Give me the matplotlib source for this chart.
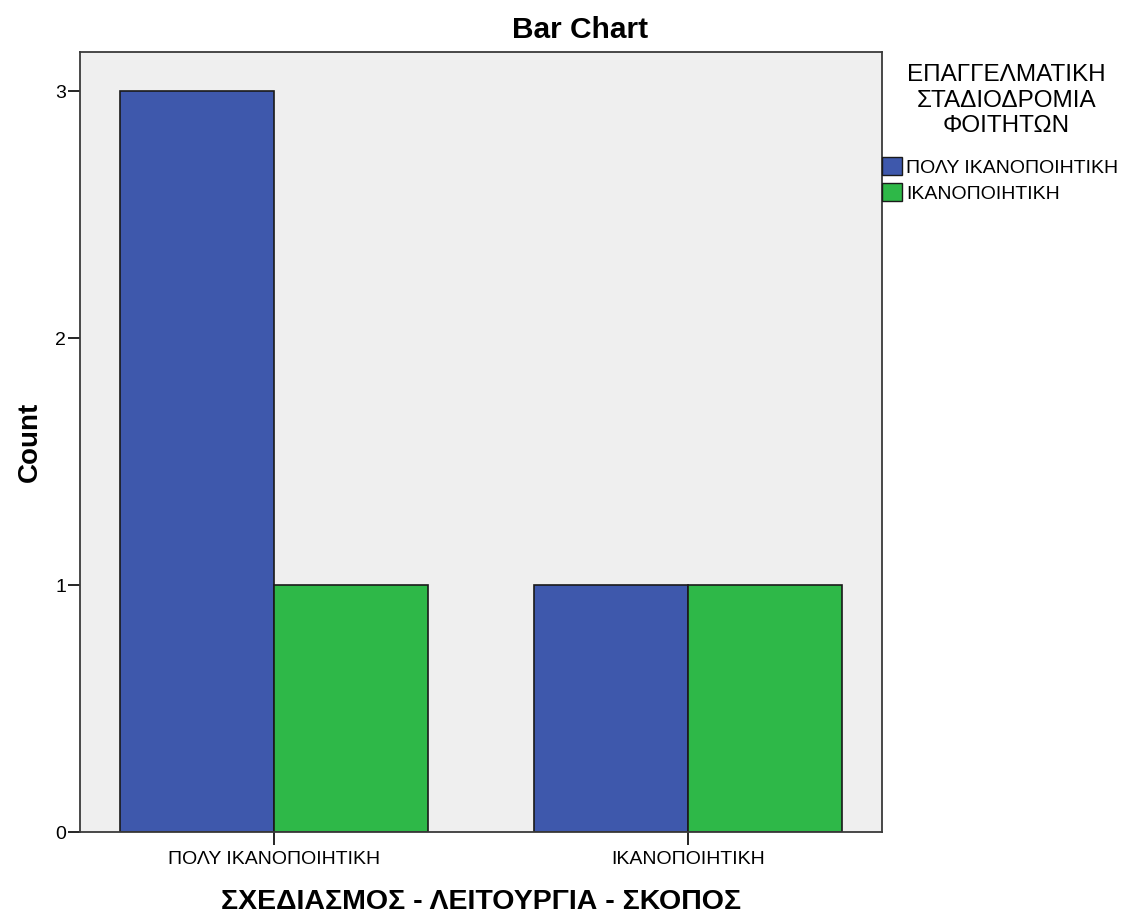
import matplotlib.pyplot as plt
import numpy as np
from matplotlib.patches import Patch

plt.rcParams['font.family'] = ['Liberation Sans', 'DejaVu Sans']

# Datos
categorias = ['ΠΟΛΥ ΙΚΑΝΟΠΟΙΗΤΙΚΗ', 'ΙΚΑΝΟΠΟΙΗΤΙΚΗ']
series = ['ΠΟΛΥ ΙΚΑΝΟΠΟΙΗΤΙΚΗ', 'ΙΚΑΝΟΠΟΙΗΤΙΚΗ']
valores_poly = [3, 1]
valores_ikano = [1, 1]
colores = ['#3E58AC', '#2EB848']

fig = plt.figure(figsize=(11.28, 9.15), dpi=100)
ax = fig.add_axes([0.0709, 0.0907, 0.7110, 0.8523])
ax.set_facecolor('#EFEFEF')

x = np.arange(len(categorias))
ancho = 0.372
ax.bar(x - ancho / 2, valores_poly, ancho, color=colores[0], edgecolor='#1a1a1a', linewidth=1.2)
ax.bar(x + ancho / 2, valores_ikano, ancho, color=colores[1], edgecolor='#1a1a1a', linewidth=1.2)

ax.set_xlim(-0.469, 1.468)
ax.set_ylim(0, 3.158)
ax.set_xticks(x)
ax.set_xticklabels(categorias, fontsize=14)
ax.set_yticks([0, 1, 2, 3])
ax.tick_params(axis='y', labelsize=14, length=9, width=1.2, pad=1)
ax.tick_params(axis='x', length=9, width=1.2, pad=5)
for s in ax.spines.values():
    s.set_color('#3a3a3a')
    s.set_linewidth(1.3)

ax.set_xlabel('ΣΧΕΔΙΑΣΜΟΣ - ΛΕΙΤΟΥΡΓΙΑ - ΣΚΟΠΟΣ', fontsize=20.5, fontweight='bold', labelpad=15)
ax.set_ylabel('Count', fontsize=20, fontweight='bold', labelpad=9)
fig.text(0.514, 0.967, 'Bar Chart', ha='center', va='center', fontsize=21.5, fontweight='bold')

# Leyenda
fig.text(0.892, 0.890, 'ΕΠΑΓΓΕΛΜΑΤΙΚΗ\nΣΤΑΔΙΟΔΡΟΜΙΑ\nΦΟΙΤΗΤΩΝ', ha='center', va='center',
         fontsize=17.5, linespacing=1.2)
handles = [Patch(facecolor=c, edgecolor='#1a1a1a', label=l) for c, l in zip(colores, series)]
fig.legend(handles=handles, loc='upper left', bbox_to_anchor=(0.775, 0.837), frameon=False,
           fontsize=14, handlelength=1.05, handleheight=1.05, handletextpad=0.2, labelspacing=0.35,
           borderaxespad=0)

fig.savefig('out.png', dpi=100)
